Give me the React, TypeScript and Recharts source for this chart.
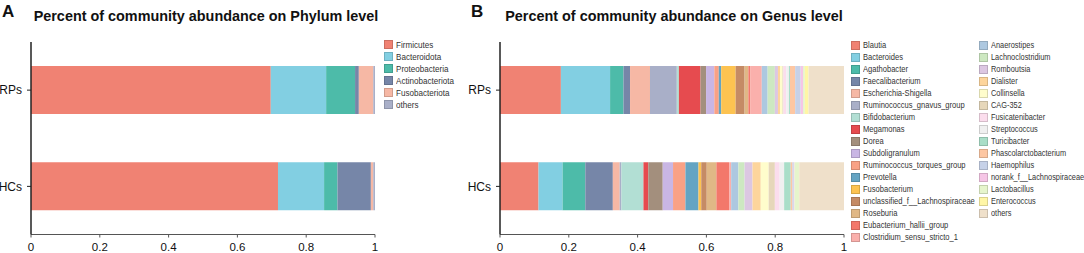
import React from 'react';
import { BarChart, Bar, XAxis, YAxis } from 'recharts';

const groups = ['RPs', 'HCs'];
const xTicks = [0, 0.2, 0.4, 0.6, 0.8, 1];

const phylumNames = ['Firmicutes', 'Bacteroidota', 'Proteobacteria', 'Actinobacteriota', 'Fusobacteriota', 'others'];
const phylumRPs = [0.697, 0.161, 0.084, 0.011, 0.042, 0.005];
const phylumHCs = [0.718, 0.134, 0.039, 0.097, 0.007, 0.005];
const phylumColors = ['#F08273', '#82CFE2', '#4DBBA9', '#7686A8', '#F6B8A5', '#A9AFC8'];

const genusNames = [
  'Blautia', 'Bacteroides', 'Agathobacter', 'Faecalibacterium', 'Escherichia-Shigella',
  'Ruminococcus_gnavus_group', 'Bifidobacterium', 'Megamonas', 'Dorea', 'Subdoligranulum',
  'Ruminococcus_torques_group', 'Prevotella', 'Fusobacterium', 'unclassified_f__Lachnospiraceae',
  'Roseburia', 'Eubacterium_hallii_group', 'Clostridium_sensu_stricto_1',
  'Anaerostipes', 'Lachnoclostridium', 'Romboutsia', 'Dialister', 'Collinsella', 'CAG-352',
  'Fusicatenibacter', 'Streptococcus', 'Turicibacter', 'Phascolarctobacterium', 'Haemophilus',
  'norank_f__Lachnospiraceae', 'Lactobacillus', 'Enterococcus', 'others',
];
const genusRPs = [
  0.177, 0.143, 0.039, 0.019, 0.058, 0.078, 0.006, 0.063, 0.016, 0.024,
  0.013, 0.007, 0.042, 0.026, 0.011, 0.006, 0.033,
  0.017, 0.021, 0.009, 0.006, 0.007, 0.003, 0.008, 0.008, 0.003, 0.015, 0.016,
  0.007, 0.005, 0.011, 0.103,
];
const genusHCs = [
  0.112, 0.070, 0.066, 0.080, 0.020, 0.005, 0.064, 0.014, 0.042, 0.030,
  0.036, 0.038, 0.008, 0.016, 0.028, 0.037, 0.006,
  0.021, 0.018, 0.023, 0.024, 0.023, 0.018, 0.014, 0.013, 0.019, 0.005, 0.004,
  0.002, 0.013, 0.001, 0.132,
];
const genusColors = [
  '#F08273', '#82CFE2', '#4DBBA9', '#7686A8', '#F6B8A5',
  '#A9AFC8', '#B2DFD4', '#E64B4F', '#A38F7D', '#C9B6E4',
  '#F9A185', '#64A4C3', '#FDC351', '#C58B65',
  '#E0B886', '#F3786B', '#FAB0AC',
  '#ADC8E0', '#CDE8C1', '#DCC7E2', '#FDD59C', '#FFFDCC', '#E6D7BA',
  '#FBDDED', '#F0F0F0', '#A9DEC8', '#FDC7A3', '#C6D1E8',
  '#F6C6E6', '#E6F5CC', '#FFF6A6', '#EFE0CA',
];

function buildRows(names: string[], a: number[], b: number[]) {
  const vals = [a, b];
  return groups.map((g, gi) => {
    const row: Record<string, any> = { group: g };
    names.forEach((n, i) => { row[n] = vals[gi][i]; });
    return row;
  });
}

const phylumData = buildRows(phylumNames, phylumRPs, phylumHCs);
const genusData = buildRows(genusNames, genusRPs, genusHCs);

const FONT = 'Arial, "Liberation Sans", Helvetica, sans-serif';

type PanelProps = {
  data: any[];
  names: string[];
  colors: string[];
  yWidth: number;
  width: number;
};

function Panel({ data, names, colors, yWidth, width }: PanelProps) {
  return (
    <BarChart
      width={width}
      height={253}
      data={data}
      layout="vertical"
      margin={{ top: 42, right: 6, bottom: 0, left: 0 }}
      barSize={48}
    >
      <XAxis
        type="number"
        domain={[0, 1]}
        ticks={xTicks}
        tickFormatter={(v: number) => String(v)}
        height={18.5}
        axisLine={{ stroke: '#555', strokeWidth: 1 }}
        tickLine={{ stroke: '#555' }}
        tickSize={3}
        tickMargin={5.5}
        tick={{ fill: '#111', fontSize: 11.5, fontFamily: FONT }}
        allowDataOverflow
      />
      <YAxis
        type="category"
        dataKey="group"
        width={yWidth}
        axisLine={{ stroke: '#222', strokeWidth: 1.5 }}
        tickLine={{ stroke: '#222' }}
        tickSize={4}
        tickMargin={5}
        tick={{ fill: '#111', fontSize: 12, fontFamily: FONT }}
      />
      {names.map((n, i) => (
        <Bar key={n} dataKey={n} stackId="s" fill={colors[i]} isAnimationActive={false} />
      ))}
    </BarChart>
  );
}

type LegendProps = { names: string[]; colors: string[]; left: number; top: number; fontSize: number; squeeze: number };

function LegendCol({ names, colors, left, top, fontSize, squeeze }: LegendProps) {
  return (
    <div style={{ position: 'absolute', left, top }}>
      {names.map((n, i) => (
        <div key={n} style={{ display: 'flex', alignItems: 'center', height: 12, fontFamily: FONT, color: '#333', whiteSpace: 'nowrap' }}>
          <span style={{ display: 'inline-block', width: 7, height: 7, background: colors[i], border: '0.5px solid rgba(0,0,0,0.15)', marginRight: 3 }} />
          <span style={{ display: 'inline-block', fontSize, transform: `scaleX(${squeeze})`, transformOrigin: 'left center' }}>{n}</span>
        </div>
      ))}
    </div>
  );
}

export default function App() {
  const titleStyle: React.CSSProperties = {
    position: 'absolute', top: 8, fontFamily: FONT, fontWeight: 'bold', fontSize: 14.4,
    textAlign: 'center', color: '#111', whiteSpace: 'nowrap', width: 350,
  };
  const letterStyle: React.CSSProperties = {
    position: 'absolute', top: 2, fontFamily: FONT, fontWeight: 'bold', fontSize: 17, color: '#111',
  };
  const split = 17;
  return (
    <div style={{ position: 'absolute', left: 0, top: 0, width: 1084, height: 253, background: '#fff', overflow: 'hidden' }}>
      <div style={{ ...letterStyle, left: 2 }}>A</div>
      <div style={{ ...titleStyle, left: 31 }}>Percent of community abundance on Phylum level</div>
      <div style={{ position: 'absolute', left: 0, top: 0 }}>
        <Panel data={phylumData} names={phylumNames} colors={phylumColors} yWidth={31} width={381} />
      </div>
      <LegendCol names={phylumNames} colors={phylumColors} left={384} top={38} fontSize={9.5} squeeze={0.85} />

      <div style={{ ...letterStyle, left: 471 }}>B</div>
      <div style={{ ...titleStyle, left: 499 }}>Percent of community abundance on Genus level</div>
      <div style={{ position: 'absolute', left: 440, top: 0 }}>
        <Panel data={genusData} names={genusNames} colors={genusColors} yWidth={60} width={410} />
      </div>
      <LegendCol names={genusNames.slice(0, split)} colors={genusColors.slice(0, split)} left={851} top={39} fontSize={9} squeeze={0.84} />
      <LegendCol names={genusNames.slice(split)} colors={genusColors.slice(split)} left={979} top={39} fontSize={9} squeeze={0.82} />
    </div>
  );
}
